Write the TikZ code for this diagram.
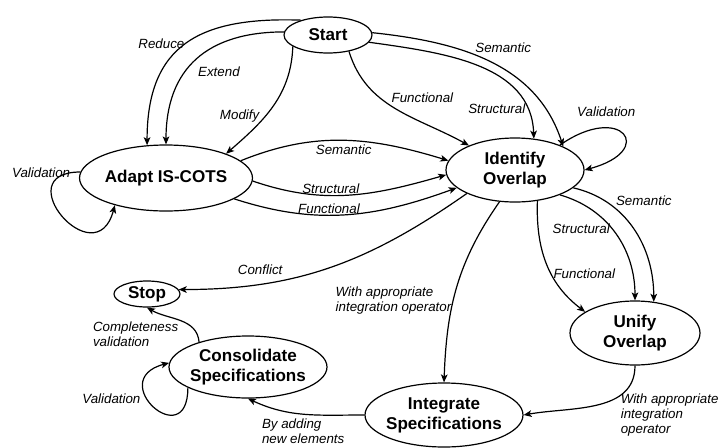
\documentclass[tikz,border=0pt]{standalone}
\usepackage{fontspec}
\setmainfont{Liberation Sans}
\usetikzlibrary{arrows.meta,shapes.geometric}

\tikzset{
  state/.style={ellipse, draw, line width=.9pt, inner sep=0pt, align=center,
    font=\bfseries\fontsize{12.8}{15}\selectfont},
  lbl/.style={inner sep=1pt, align=left, font=\itshape\fontsize{10}{11.2}\selectfont},
  trans/.style={draw, line width=.9pt, -{Stealth[length=6pt,width=5pt,inset=1.5pt]}},
}

\begin{document}
\begin{tikzpicture}[x=.75pt,y=.75pt]
        \useasboundingbox (0,0) rectangle (725,-447);

        \begin{scope}[every node/.style={state}]
          \node[minimum width=66pt,minimum height=27pt]     (start)  at (328,-35)  {Start};
          \node[minimum width=102pt,minimum height=49.5pt]  (adapt)  at (166,-178) {Adapt IS-COTS};
          \node[minimum width=103.5pt,minimum height=48pt]  (ident)  at (515,-170) {Identify\\Overlap};
          \node[minimum width=49.5pt,minimum height=19.5pt] (stop)   at (147,-294) {Stop};
          \node[minimum width=118.5pt,minimum height=46.5pt,inner xsep=-4pt] (consol) at (248,-367) {Consolidate\\Specifications};
          \node[minimum width=118.5pt,minimum height=48pt,inner xsep=-4pt]   (integ)  at (444,-415) {Integrate\\Specifications};
          \node[minimum width=97.5pt,minimum height=48pt]   (unify)  at (635,-333) {Unify\\Overlap};
        \end{scope}

        \begin{scope}[every node/.style={lbl}]

          \begin{scope}[every edge/.style={trans}]
            \path (start.151) edge[out=178,in=90,looseness=1.3] node[pos=.5,left] {Reduce} (adapt.120);
            \path (start.176) edge[out=180,in=90,looseness=1.2] node[pos=.6,right=8pt] {Extend} (adapt.90);
            \path (start.198) edge[out=268,in=41] node[pos=.6,left=3pt] {Modify} (adapt.22);
            \path (start.322) edge[out=287,in=151] node[pos=.45,anchor=south west] {Functional} (ident.152);
            \path (start.350) edge[out=352,in=92] node[pos=.85,left] {Structural} (ident.59);
            \path (start.3)   edge[out=354,in=108] node[pos=.42,anchor=south west] {Semantic} (ident.26);
            \path (ident.29)  edge[out=35,in=15,looseness=5.5] node[pos=.3,above=7pt] {Validation} (ident.0);
            \path (adapt.13)  edge[out=22,in=163] node[pos=.5,below=2pt] {Semantic} (ident.172);
            \path (adapt.358) edge[out=341,in=196] node[pos=.4,above] {Structural} (ident.184);
            \path (adapt.343) edge[out=342,in=200] node[pos=.42,above] {Functional} (ident.197);
            \path (adapt.176) edge[out=180,in=255,looseness=4] node[pos=.04,anchor=east] {Validation} (adapt.208);
            \path (ident.206) edge[out=215,in=0] node[pos=.75,above=6pt] {Conflict} (stop.8);
            \path (ident.244) edge[out=235,in=88] node[pos=.58,anchor=east] {With appropriate\\integration operator} (integ.90);
            \path (ident.306) edge[out=268,in=143] node[pos=.6,anchor=west] {Functional} (unify.157);
            \path (ident.331) edge[out=344,in=90] node[pos=.45,left] {Structural} (unify.90);
            \path (ident.343) edge[out=347,in=90] node[pos=.3,anchor=south west] {Semantic} (unify.59);
            \path (unify.270) edge[out=270,in=10] node[pos=.25,anchor=north west,xshift=-4pt] {With appropriate\\integration\\operator} (integ.0);
            \path (integ.180) edge[out=180,in=335] node[pos=.9,anchor=north west,yshift=-10pt] {By adding\\new elements} (consol.270);
            \path (consol.199) edge[out=270,in=195,looseness=5.5] node[pos=.6,left=4pt] {Validation} (consol.177);
            \path (consol.153) edge[out=95,in=330] node[pos=.5,anchor=north east] {Completeness\\validation} (stop.270);
          \end{scope}
        \end{scope}

      \end{tikzpicture}
\end{document}
